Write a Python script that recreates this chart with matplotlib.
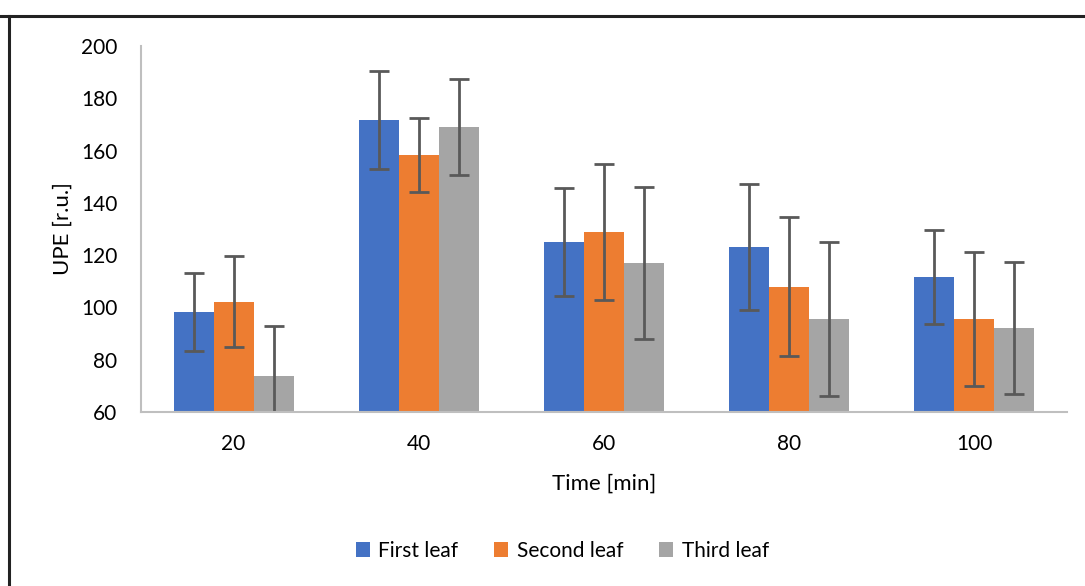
import numpy as np
import matplotlib.pyplot as plt
from matplotlib.lines import Line2D

plt.rcParams['font.family'] = ['Lato', 'DejaVu Sans']

times = ['20', '40', '60', '80', '100']
series = ['First leaf', 'Second leaf', 'Third leaf']
first_leaf = [98.3, 171.8, 125.0, 123.2, 111.8]
second_leaf = [102.2, 158.4, 128.9, 107.9, 95.7]
third_leaf = [73.9, 169.0, 117.0, 95.6, 92.1]
first_err = [15.0, 18.8, 20.8, 24.1, 18.0]
second_err = [17.5, 14.2, 26.0, 26.5, 25.6]
third_err = [18.8, 18.5, 29.0, 29.5, 25.2]
colors = ['#4472C4', '#ED7D31', '#A5A5A5']

fig = plt.figure(figsize=(10.85, 5.86), dpi=100)
ax = fig.add_axes([0.130, 0.297, 0.853, 0.6245])

x = np.arange(len(times))
w = 0.216
vals = [first_leaf, second_leaf, third_leaf]
errs = [first_err, second_err, third_err]
for i in range(3):
    ax.bar(x + (i - 1) * w, vals[i], w, color=colors[i], label=series[i],
           yerr=errs[i], ecolor='#595959', capsize=7,
           error_kw={'elinewidth': 2, 'capthick': 2}, zorder=2)

ax.set_ylim(60, 200)
ax.set_xlim(-0.5, 4.5)
ax.set_yticks(range(60, 201, 20))
ax.set_xticks(x)
ax.set_xticklabels(times)
ax.tick_params(axis='y', length=0, labelsize=15, colors='#000000', pad=17)
ax.tick_params(axis='x', length=0, labelsize=15, colors='#000000', pad=16)
for s in ['top', 'right']:
    ax.spines[s].set_visible(False)
for s in ['left', 'bottom']:
    ax.spines[s].set_color('#BFBFBF')
    ax.spines[s].set_linewidth(1.5)
ax.set_xlabel('Time [min]', fontsize=16, labelpad=14)
ax.set_ylabel('UPE [r.u.]', fontsize=16, labelpad=6)

ax.legend(loc='center', bbox_to_anchor=(0.455, -0.38), ncol=3, frameon=False,
          fontsize=15, handlelength=0.7, handleheight=0.7, handletextpad=0.4,
          columnspacing=1.7)

# frame lines on top and left edge of the picture
fig.add_artist(Line2D([0, 1], [1 - 16 / 586, 1 - 16 / 586], color='#222222', lw=2.2))
fig.add_artist(Line2D([9 / 1085, 9 / 1085], [0, 1 - 16 / 586], color='#222222', lw=2.2))

fig.savefig('out.png', dpi=100)
